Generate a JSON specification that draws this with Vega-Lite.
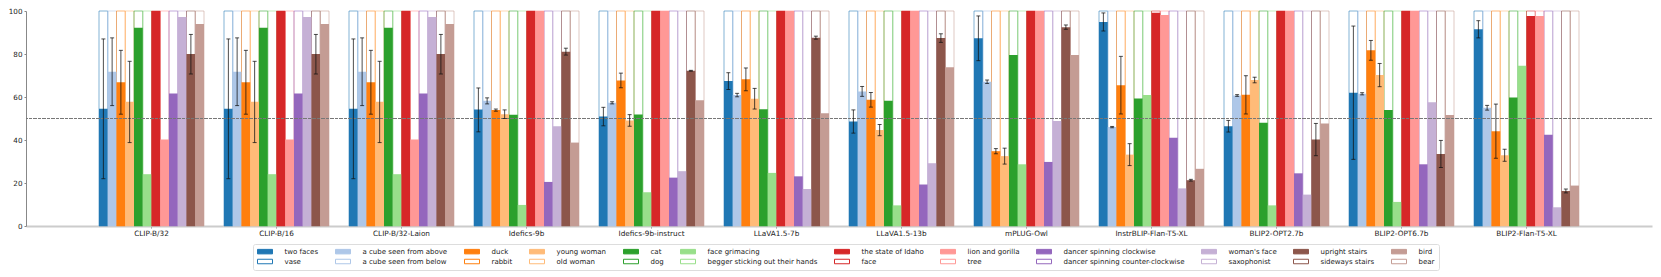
{
  "$schema": "https://vega.github.io/schema/vega-lite/v6.json",
  "width": 1626,
  "height": 215,
  "autosize": {"type": "none"},
  "padding": {"left": 26, "top": 11, "right": 9, "bottom": 51},
  "background": "white",
  "config": {"view": {"stroke": null}, "font": "DejaVu Sans"},
  "datasets": {
    "pairs": [
      {"i": 0, "a": "two faces", "b": "vase"},
      {"i": 1, "a": "a cube seen from above", "b": "a cube seen from below"},
      {"i": 2, "a": "duck", "b": "rabbit"},
      {"i": 3, "a": "young woman", "b": "old woman"},
      {"i": 4, "a": "cat", "b": "dog"},
      {"i": 5, "a": "face grimacing", "b": "begger sticking out their hands"},
      {"i": 6, "a": "the state of Idaho", "b": "face"},
      {"i": 7, "a": "lion and gorilla", "b": "tree"},
      {"i": 8, "a": "dancer spinning clockwise", "b": "dancer spinning counter-clockwise"},
      {"i": 9, "a": "woman's face", "b": "saxophonist"},
      {"i": 10, "a": "upright stairs", "b": "sideways stairs"},
      {"i": 11, "a": "bird", "b": "bear"}
    ],
    "vals": [
      {"m": "CLIP-B/32", "i": 0, "v": 54.5, "lo": 22, "hi": 87},
      {"m": "CLIP-B/32", "i": 1, "v": 71.7, "lo": 56, "hi": 87.5},
      {"m": "CLIP-B/32", "i": 2, "v": 66.9, "lo": 52, "hi": 81.7},
      {"m": "CLIP-B/32", "i": 3, "v": 57.8, "lo": 38.8, "hi": 76.6},
      {"m": "CLIP-B/32", "i": 4, "v": 92.2},
      {"m": "CLIP-B/32", "i": 5, "v": 24.1},
      {"m": "CLIP-B/32", "i": 6, "v": 100},
      {"m": "CLIP-B/32", "i": 7, "v": 40.2},
      {"m": "CLIP-B/32", "i": 8, "v": 61.6},
      {"m": "CLIP-B/32", "i": 9, "v": 97.2},
      {"m": "CLIP-B/32", "i": 10, "v": 80.0, "lo": 70.7, "hi": 89.1},
      {"m": "CLIP-B/32", "i": 11, "v": 93.9},
      {"m": "CLIP-B/16", "i": 0, "v": 54.5, "lo": 22, "hi": 87},
      {"m": "CLIP-B/16", "i": 1, "v": 71.7, "lo": 56, "hi": 87.5},
      {"m": "CLIP-B/16", "i": 2, "v": 66.9, "lo": 52, "hi": 81.7},
      {"m": "CLIP-B/16", "i": 3, "v": 57.8, "lo": 38.8, "hi": 76.6},
      {"m": "CLIP-B/16", "i": 4, "v": 92.2},
      {"m": "CLIP-B/16", "i": 5, "v": 24.1},
      {"m": "CLIP-B/16", "i": 6, "v": 100},
      {"m": "CLIP-B/16", "i": 7, "v": 40.2},
      {"m": "CLIP-B/16", "i": 8, "v": 61.6},
      {"m": "CLIP-B/16", "i": 9, "v": 97.2},
      {"m": "CLIP-B/16", "i": 10, "v": 80.0, "lo": 70.7, "hi": 89.1},
      {"m": "CLIP-B/16", "i": 11, "v": 93.9},
      {"m": "CLIP-B/32-Laion", "i": 0, "v": 54.5, "lo": 22, "hi": 87},
      {"m": "CLIP-B/32-Laion", "i": 1, "v": 71.7, "lo": 56, "hi": 87.5},
      {"m": "CLIP-B/32-Laion", "i": 2, "v": 66.9, "lo": 52, "hi": 81.7},
      {"m": "CLIP-B/32-Laion", "i": 3, "v": 57.8, "lo": 38.8, "hi": 76.6},
      {"m": "CLIP-B/32-Laion", "i": 4, "v": 92.2},
      {"m": "CLIP-B/32-Laion", "i": 5, "v": 24.1},
      {"m": "CLIP-B/32-Laion", "i": 6, "v": 100},
      {"m": "CLIP-B/32-Laion", "i": 7, "v": 40.2},
      {"m": "CLIP-B/32-Laion", "i": 8, "v": 61.6},
      {"m": "CLIP-B/32-Laion", "i": 9, "v": 97.2},
      {"m": "CLIP-B/32-Laion", "i": 10, "v": 80.0, "lo": 70.7, "hi": 89.1},
      {"m": "CLIP-B/32-Laion", "i": 11, "v": 93.9},
      {"m": "Idefics-9b", "i": 0, "v": 54.2, "lo": 43.8, "hi": 64.2},
      {"m": "Idefics-9b", "i": 1, "v": 58.2, "lo": 56.8, "hi": 59.6},
      {"m": "Idefics-9b", "i": 2, "v": 53.9, "lo": 53.4, "hi": 54.4},
      {"m": "Idefics-9b", "i": 3, "v": 52.0, "lo": 50.0, "hi": 54.0},
      {"m": "Idefics-9b", "i": 4, "v": 51.7},
      {"m": "Idefics-9b", "i": 5, "v": 9.8},
      {"m": "Idefics-9b", "i": 6, "v": 100},
      {"m": "Idefics-9b", "i": 7, "v": 100},
      {"m": "Idefics-9b", "i": 8, "v": 20.5},
      {"m": "Idefics-9b", "i": 9, "v": 46.4},
      {"m": "Idefics-9b", "i": 10, "v": 81.1, "lo": 79.5, "hi": 82.7},
      {"m": "Idefics-9b", "i": 11, "v": 38.8},
      {"m": "Idefics-9b-instruct", "i": 0, "v": 50.9, "lo": 46.6, "hi": 55.2},
      {"m": "Idefics-9b-instruct", "i": 1, "v": 57.3, "lo": 56.8, "hi": 57.8},
      {"m": "Idefics-9b-instruct", "i": 2, "v": 67.7, "lo": 64.3, "hi": 71.1},
      {"m": "Idefics-9b-instruct", "i": 3, "v": 49.1, "lo": 46.4, "hi": 51.8},
      {"m": "Idefics-9b-instruct", "i": 4, "v": 51.9},
      {"m": "Idefics-9b-instruct", "i": 5, "v": 15.7},
      {"m": "Idefics-9b-instruct", "i": 6, "v": 100},
      {"m": "Idefics-9b-instruct", "i": 7, "v": 100},
      {"m": "Idefics-9b-instruct", "i": 8, "v": 22.5},
      {"m": "Idefics-9b-instruct", "i": 9, "v": 25.5},
      {"m": "Idefics-9b-instruct", "i": 10, "v": 72.2, "lo": 72.0, "hi": 72.4},
      {"m": "Idefics-9b-instruct", "i": 11, "v": 58.5},
      {"m": "LLaVA1.5-7b", "i": 0, "v": 67.4, "lo": 63.5, "hi": 71.3},
      {"m": "LLaVA1.5-7b", "i": 1, "v": 60.9, "lo": 60.1, "hi": 61.7},
      {"m": "LLaVA1.5-7b", "i": 2, "v": 68.2, "lo": 62.9, "hi": 73.5},
      {"m": "LLaVA1.5-7b", "i": 3, "v": 59.2, "lo": 54.4, "hi": 64.0},
      {"m": "LLaVA1.5-7b", "i": 4, "v": 54.3},
      {"m": "LLaVA1.5-7b", "i": 5, "v": 24.7},
      {"m": "LLaVA1.5-7b", "i": 6, "v": 100},
      {"m": "LLaVA1.5-7b", "i": 7, "v": 100},
      {"m": "LLaVA1.5-7b", "i": 8, "v": 23.1},
      {"m": "LLaVA1.5-7b", "i": 9, "v": 17.2},
      {"m": "LLaVA1.5-7b", "i": 10, "v": 87.6, "lo": 86.9, "hi": 88.3},
      {"m": "LLaVA1.5-7b", "i": 11, "v": 52.5},
      {"m": "LLaVA1.5-13b", "i": 0, "v": 48.6, "lo": 43.2, "hi": 54.0},
      {"m": "LLaVA1.5-13b", "i": 1, "v": 62.6, "lo": 60.3, "hi": 64.9},
      {"m": "LLaVA1.5-13b", "i": 2, "v": 58.7, "lo": 55.3, "hi": 62.1},
      {"m": "LLaVA1.5-13b", "i": 3, "v": 44.6, "lo": 42.0, "hi": 47.2},
      {"m": "LLaVA1.5-13b", "i": 4, "v": 58.2},
      {"m": "LLaVA1.5-13b", "i": 5, "v": 9.6},
      {"m": "LLaVA1.5-13b", "i": 6, "v": 100},
      {"m": "LLaVA1.5-13b", "i": 7, "v": 100},
      {"m": "LLaVA1.5-13b", "i": 8, "v": 19.3},
      {"m": "LLaVA1.5-13b", "i": 9, "v": 29.2},
      {"m": "LLaVA1.5-13b", "i": 10, "v": 87.4, "lo": 85.4, "hi": 89.4},
      {"m": "LLaVA1.5-13b", "i": 11, "v": 73.8},
      {"m": "mPLUG-Owl", "i": 0, "v": 87.3, "lo": 76.9, "hi": 97.7},
      {"m": "mPLUG-Owl", "i": 1, "v": 67.1, "lo": 66.3, "hi": 67.9},
      {"m": "mPLUG-Owl", "i": 2, "v": 34.8, "lo": 33.6, "hi": 36.0},
      {"m": "mPLUG-Owl", "i": 3, "v": 32.5, "lo": 28.8, "hi": 36.2},
      {"m": "mPLUG-Owl", "i": 4, "v": 79.5},
      {"m": "mPLUG-Owl", "i": 5, "v": 28.7},
      {"m": "mPLUG-Owl", "i": 6, "v": 100},
      {"m": "mPLUG-Owl", "i": 7, "v": 100},
      {"m": "mPLUG-Owl", "i": 8, "v": 29.8},
      {"m": "mPLUG-Owl", "i": 9, "v": 48.8},
      {"m": "mPLUG-Owl", "i": 10, "v": 92.5, "lo": 91.5, "hi": 93.5},
      {"m": "mPLUG-Owl", "i": 11, "v": 79.5},
      {"m": "InstrBLIP-Flan-T5-XL", "i": 0, "v": 94.9, "lo": 90.7, "hi": 99.1},
      {"m": "InstrBLIP-Flan-T5-XL", "i": 1, "v": 46.0, "lo": 45.7, "hi": 46.3},
      {"m": "InstrBLIP-Flan-T5-XL", "i": 2, "v": 65.5, "lo": 52.1, "hi": 78.9},
      {"m": "InstrBLIP-Flan-T5-XL", "i": 3, "v": 33.2, "lo": 28.1, "hi": 38.3},
      {"m": "InstrBLIP-Flan-T5-XL", "i": 4, "v": 59.3},
      {"m": "InstrBLIP-Flan-T5-XL", "i": 5, "v": 60.9},
      {"m": "InstrBLIP-Flan-T5-XL", "i": 6, "v": 99.2},
      {"m": "InstrBLIP-Flan-T5-XL", "i": 7, "v": 98.1},
      {"m": "InstrBLIP-Flan-T5-XL", "i": 8, "v": 41.0},
      {"m": "InstrBLIP-Flan-T5-XL", "i": 9, "v": 17.5},
      {"m": "InstrBLIP-Flan-T5-XL", "i": 10, "v": 21.3, "lo": 20.9, "hi": 21.7},
      {"m": "InstrBLIP-Flan-T5-XL", "i": 11, "v": 26.6},
      {"m": "BLIP2-OPT2.7b", "i": 0, "v": 46.4, "lo": 43.7, "hi": 49.1},
      {"m": "BLIP2-OPT2.7b", "i": 1, "v": 60.7, "lo": 60.3, "hi": 61.1},
      {"m": "BLIP2-OPT2.7b", "i": 2, "v": 61.0, "lo": 52.1, "hi": 69.9},
      {"m": "BLIP2-OPT2.7b", "i": 3, "v": 67.9, "lo": 66.6, "hi": 69.2},
      {"m": "BLIP2-OPT2.7b", "i": 4, "v": 48.0},
      {"m": "BLIP2-OPT2.7b", "i": 5, "v": 9.6},
      {"m": "BLIP2-OPT2.7b", "i": 6, "v": 100},
      {"m": "BLIP2-OPT2.7b", "i": 7, "v": 100},
      {"m": "BLIP2-OPT2.7b", "i": 8, "v": 24.5},
      {"m": "BLIP2-OPT2.7b", "i": 9, "v": 14.6},
      {"m": "BLIP2-OPT2.7b", "i": 10, "v": 40.2, "lo": 32.7, "hi": 47.7},
      {"m": "BLIP2-OPT2.7b", "i": 11, "v": 47.7},
      {"m": "BLIP2-OPT6.7b", "i": 0, "v": 62.0, "lo": 31.0, "hi": 93.0},
      {"m": "BLIP2-OPT6.7b", "i": 1, "v": 61.5, "lo": 61.0, "hi": 62.0},
      {"m": "BLIP2-OPT6.7b", "i": 2, "v": 81.7, "lo": 77.1, "hi": 86.3},
      {"m": "BLIP2-OPT6.7b", "i": 3, "v": 70.2, "lo": 64.8, "hi": 75.6},
      {"m": "BLIP2-OPT6.7b", "i": 4, "v": 53.9},
      {"m": "BLIP2-OPT6.7b", "i": 5, "v": 11.2},
      {"m": "BLIP2-OPT6.7b", "i": 6, "v": 100},
      {"m": "BLIP2-OPT6.7b", "i": 7, "v": 100},
      {"m": "BLIP2-OPT6.7b", "i": 8, "v": 28.7},
      {"m": "BLIP2-OPT6.7b", "i": 9, "v": 57.6},
      {"m": "BLIP2-OPT6.7b", "i": 10, "v": 33.5, "lo": 27.2, "hi": 39.8},
      {"m": "BLIP2-OPT6.7b", "i": 11, "v": 51.6},
      {"m": "BLIP2-Flan-T5-XL", "i": 0, "v": 91.5, "lo": 87.5, "hi": 95.5},
      {"m": "BLIP2-Flan-T5-XL", "i": 1, "v": 55.0, "lo": 53.9, "hi": 56.1},
      {"m": "BLIP2-Flan-T5-XL", "i": 2, "v": 44.1, "lo": 31.5, "hi": 56.7},
      {"m": "BLIP2-Flan-T5-XL", "i": 3, "v": 32.9, "lo": 30.1, "hi": 35.7},
      {"m": "BLIP2-Flan-T5-XL", "i": 4, "v": 59.8},
      {"m": "BLIP2-Flan-T5-XL", "i": 5, "v": 74.5},
      {"m": "BLIP2-Flan-T5-XL", "i": 6, "v": 97.7},
      {"m": "BLIP2-Flan-T5-XL", "i": 7, "v": 97.7},
      {"m": "BLIP2-Flan-T5-XL", "i": 8, "v": 42.4},
      {"m": "BLIP2-Flan-T5-XL", "i": 9, "v": 8.7},
      {"m": "BLIP2-Flan-T5-XL", "i": 10, "v": 16.3, "lo": 15.4, "hi": 17.2},
      {"m": "BLIP2-Flan-T5-XL", "i": 11, "v": 18.8}
    ]
  },
  "data": {"name": "vals"},
  "transform": [
    {"lookup": "i", "from": {"data": {"name": "pairs"}, "key": "i", "fields": ["a", "b"]}}
  ],
  "encoding": {
    "x": {
      "field": "m",
      "type": "nominal",
      "scale": {
        "domain": ["CLIP-B/32", "CLIP-B/16", "CLIP-B/32-Laion", "Idefics-9b", "Idefics-9b-instruct", "LLaVA1.5-7b", "LLaVA1.5-13b", "mPLUG-Owl", "InstrBLIP-Flan-T5-XL", "BLIP2-OPT2.7b", "BLIP2-OPT6.7b", "BLIP2-Flan-T5-XL"],
        "paddingInner": 0.16,
        "paddingOuter": 0.584
      },
      "axis": {
        "title": null,
        "labelAngle": 0,
        "labelFont": "DejaVu Sans",
        "labelFontSize": 7.3,
        "labelColor": "#222",
        "labelPadding": 1,
        "domainColor": "#cccccc",
        "domainWidth": 2,
        "tickColor": "#888",
        "tickSize": 2
      }
    },
    "xOffset": {"field": "i", "type": "ordinal", "scale": {"paddingInner": 0, "paddingOuter": 0}}
  },
  "layer": [
    {
      "mark": {"type": "bar", "fill": "transparent", "strokeWidth": 1, "strokeOpacity": 0.55},
      "encoding": {
        "y": {
          "datum": 100,
          "type": "quantitative",
          "scale": {"domain": [0, 100], "nice": false},
          "axis": {
            "title": null,
            "values": [0, 20, 40, 60, 80, 100],
            "grid": false,
            "labelFont": "DejaVu Sans",
            "labelFontSize": 7.2,
            "labelColor": "#222",
            "labelPadding": 2,
            "domainColor": "#888",
            "tickColor": "#888",
            "tickSize": 2
          }
        },
        "stroke": {
          "field": "b",
          "type": "nominal",
          "scale": {
            "domain": ["two faces", "a cube seen from above", "duck", "young woman", "cat", "face grimacing", "the state of Idaho", "lion and gorilla", "dancer spinning clockwise", "woman's face", "upright stairs", "bird", "vase", "a cube seen from below", "rabbit", "old woman", "dog", "begger sticking out their hands", "face", "tree", "dancer spinning counter-clockwise", "saxophonist", "sideways stairs", "bear"],
            "range": ["#1f77b4", "#aec7e8", "#ff7f0e", "#ffbb78", "#2ca02c", "#98df8a", "#d62728", "#ff9896", "#9467bd", "#c5b0d5", "#8c564b", "#c49c94", "#1f77b4", "#aec7e8", "#ff7f0e", "#ffbb78", "#2ca02c", "#98df8a", "#d62728", "#ff9896", "#9467bd", "#c5b0d5", "#8c564b", "#c49c94"]
          },
          "legend": {
            "title": null,
            "orient": "none",
            "legendX": 227,
            "legendY": 233,
            "direction": "horizontal",
            "columns": 12,
            "symbolType": "M-2.5,-0.75H2.5V0.75H-2.5Z",
            "symbolSize": 36,
            "symbolOffset": 4.5,
            "symbolStrokeWidth": 1,
            "labelFont": "DejaVu Sans",
            "labelFontSize": 7,
            "labelColor": "#222",
            "labelOffset": 16,
            "columnPadding": 14,
            "rowPadding": 1,
            "padding": 4,
            "strokeColor": "#dddddd",
            "fillColor": "white",
            "cornerRadius": 2,
            "labelLimit": 300
          }
        }
      }
    },
    {
      "mark": {"type": "bar", "strokeWidth": 0},
      "encoding": {
        "y": {"field": "v", "type": "quantitative"},
        "fill": {
          "field": "a",
          "type": "nominal",
          "scale": {
            "domain": ["two faces", "a cube seen from above", "duck", "young woman", "cat", "face grimacing", "the state of Idaho", "lion and gorilla", "dancer spinning clockwise", "woman's face", "upright stairs", "bird", "vase", "a cube seen from below", "rabbit", "old woman", "dog", "begger sticking out their hands", "face", "tree", "dancer spinning counter-clockwise", "saxophonist", "sideways stairs", "bear"],
            "range": ["#1f77b4", "#aec7e8", "#ff7f0e", "#ffbb78", "#2ca02c", "#98df8a", "#d62728", "#ff9896", "#9467bd", "#c5b0d5", "#8c564b", "#c49c94", "#ffffff", "#ffffff", "#ffffff", "#ffffff", "#ffffff", "#ffffff", "#ffffff", "#ffffff", "#ffffff", "#ffffff", "#ffffff", "#ffffff"]
          },
          "legend": {
            "title": null,
            "orient": "none",
            "legendX": 227,
            "legendY": 233,
            "direction": "horizontal",
            "columns": 12,
            "symbolType": "M-2.5,-0.75H2.5V0.75H-2.5Z",
            "symbolSize": 36,
            "symbolOffset": 4.5,
            "symbolStrokeWidth": 1,
            "labelFont": "DejaVu Sans",
            "labelFontSize": 7,
            "labelColor": "#222",
            "labelOffset": 16,
            "columnPadding": 14,
            "rowPadding": 1,
            "padding": 4,
            "strokeColor": "#dddddd",
            "fillColor": "white",
            "cornerRadius": 2,
            "labelLimit": 300
          }
        }
      }
    },
    {
      "mark": {"type": "rule", "color": "#777777", "strokeDash": [3, 1.5], "strokeWidth": 1},
      "encoding": {"y": {"datum": 50, "type": "quantitative"}, "x": null, "xOffset": null}
    },
    {
      "mark": {"type": "rule", "color": "#111111", "opacity": 0.75, "strokeWidth": 1},
      "encoding": {"y": {"field": "lo", "type": "quantitative"}, "y2": {"field": "hi"}}
    },
    {
      "mark": {"type": "tick", "color": "#111111", "opacity": 0.75, "size": 4, "thickness": 1},
      "encoding": {"y": {"field": "lo", "type": "quantitative"}}
    },
    {
      "mark": {"type": "tick", "color": "#111111", "opacity": 0.75, "size": 4, "thickness": 1},
      "encoding": {"y": {"field": "hi", "type": "quantitative"}}
    }
  ]
}
